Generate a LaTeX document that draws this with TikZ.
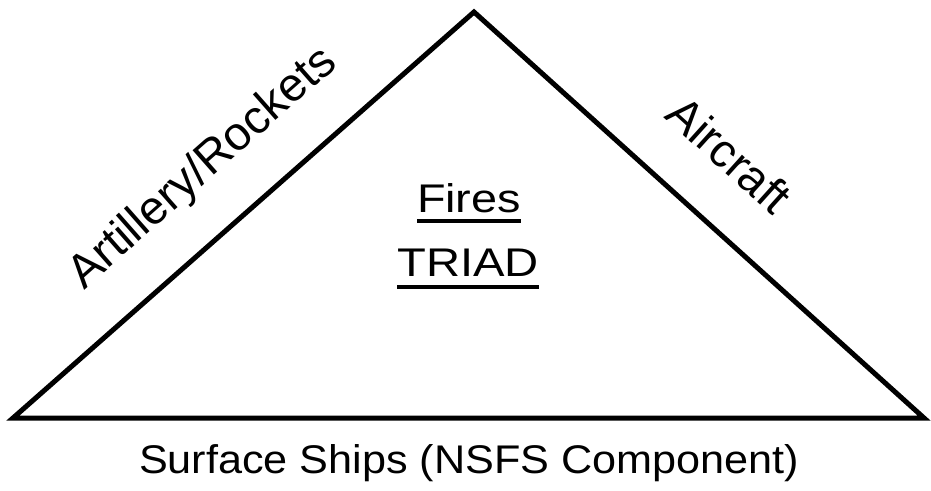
\documentclass[tikz,border=0pt]{standalone}
\usepackage{fontspec}
\setmainfont{Liberation Sans}
\begin{document}
\begin{tikzpicture}[x=1pt,y=1pt,
  edge/.style={line width=5pt,line join=miter,black},
  lbl/.style={inner sep=0pt,outer sep=0pt,font=\fontsize{40}{48}\selectfont},
  sidelbl/.style={inner sep=0pt,outer sep=0pt,font=\fontsize{47}{56}\selectfont},
  uline/.style={line width=3.2pt}]
\useasboundingbox (0,0) rectangle (931,-490);
\coordinate (apex) at (474,-12);
\coordinate (bl) at (13,-418);
\coordinate (br) at (924,-418);
\draw[edge] (bl) -- (apex) -- (br) -- cycle;
\node[sidelbl,anchor=base west,rotate=41.4] (art) at (84,-290) {Artillery/Rockets};
\node[sidelbl,anchor=base west,rotate=-42.06] (air) at (663,-117) {Aircraft};
\node[lbl,anchor=base,xscale=1.17] (fires) at (469,-212) {Fires};
\node[lbl,anchor=base,xscale=1.18] (triad) at (468,-276) {TRIAD};
\draw[uline] ([yshift=-9pt]fires.base west) -- ([yshift=-9pt]fires.base east);
\draw[uline] ([yshift=-11pt]triad.base west) -- ([yshift=-11pt]triad.base east);
\node[lbl,anchor=base west,xscale=1.08] (ships) at (139,-473) {Surface Ships (NSFS Component)};
\end{tikzpicture}
\end{document}
